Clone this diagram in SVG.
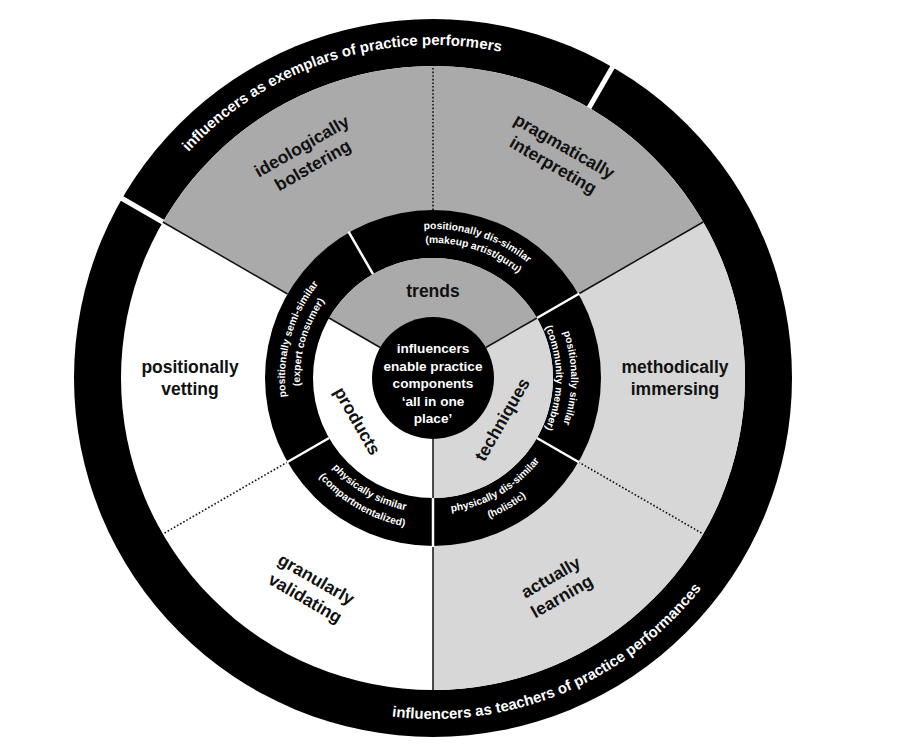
<svg xmlns="http://www.w3.org/2000/svg" xmlns:xlink="http://www.w3.org/1999/xlink" width="900" height="750" viewBox="0 0 900 750">
<style>
.lbl{font-family:"Liberation Sans",Arial,sans-serif;font-weight:bold;font-size:17.5px;fill:#111;text-anchor:middle}
.ctr{font-family:"Liberation Sans",Arial,sans-serif;font-weight:bold;font-size:13.6px;fill:#fff;text-anchor:middle}
.rt{font-family:"Liberation Sans",Arial,sans-serif;font-weight:bold;font-size:10.3px;fill:#fff;text-anchor:middle}
.ot{font-family:"Liberation Sans",Arial,sans-serif;font-weight:bold;font-size:15px;fill:#fff;text-anchor:middle}
.sol{stroke:#111;stroke-width:1.5;fill:none}
.dot{stroke:#111;stroke-width:1.6;stroke-dasharray:1.6 2;fill:none}
.wl{stroke:#fff;stroke-width:2.5;fill:none}
.gap{stroke:#fff;stroke-width:5;fill:none}
</style>
<defs>
<path id="pTop" d="M107.59,307.34 A333,333 0 0 1 656.88,131.51"/>
<path id="pBot" d="M225.40,648.55 A341,341 0 0 0 771.07,422.50"/>
<path id="s1a" d="M343.33,259.01 A149,149 0 0 1 575.49,334.43"/>
<path id="s1b" d="M351.76,270.19 A135,135 0 0 1 562.10,338.53"/>
<path id="s2a" d="M317.99,471.14 A148,148 0 0 1 384.81,238.07"/>
<path id="s2b" d="M329.65,461.70 A133,133 0 0 1 389.70,252.25"/>
<path id="s5a" d="M512.16,264.95 A138,138 0 0 1 512.16,491.05"/>
<path id="s5b" d="M503.55,277.24 A123,123 0 0 1 503.55,478.76"/>
<path id="s3a" d="M298.51,389.77 A135,135 0 0 0 490.05,500.35"/>
<path id="s3b" d="M282.57,391.17 A151,151 0 0 0 496.81,514.85"/>
<path id="s4a" d="M375.95,500.35 A135,135 0 0 0 567.49,389.77"/>
<path id="s4b" d="M369.19,514.85 A151,151 0 0 0 583.43,391.17"/>
</defs>
<rect width="900" height="750" fill="#fff"/>
<g id="outer-ring">
<circle cx="433" cy="378" r="359" fill="#000"/>
<circle cx="433" cy="378" r="312" fill="#fff"/>
<line class="gap" x1="588.5" y1="108.67" x2="614.0" y2="64.5"/>
<line class="gap" x1="163.67" y1="222.5" x2="119.5" y2="197.0"/>
<text class="ot"><textPath xlink:href="#pTop" startOffset="50%">influencers as exemplars of practice performers</textPath></text>
<text class="ot"><textPath xlink:href="#pBot" startOffset="50%">influencers as teachers of practice performances</textPath></text>
</g>
<g id="sectors">
<path d="M433,378 L703.2,222 A312,312 0 0 0 162.8,222 Z" fill="#aaaaaa"/>
<path d="M433,378 L433,690 A312,312 0 0 0 703.2,222 Z" fill="#d7d7d7"/>
</g>
<g id="middle-ring">
<circle cx="433" cy="378" r="168" fill="#000"/>
<circle cx="433" cy="378" r="120" fill="#fff"/>
<path d="M433,378 L536.92,318 A120,120 0 0 0 329.08,318 Z" fill="#aaaaaa"/>
<path d="M433,378 L433,498 A120,120 0 0 0 536.92,318 Z" fill="#d7d7d7"/>
</g>
<g id="connectors">
<line class="sol" x1="578.49" y1="294" x2="703.2" y2="222"/>
<line class="sol" x1="287.51" y1="294" x2="162.8" y2="222"/>
<line class="sol" x1="433" y1="546" x2="433" y2="690"/>
<line class="sol" x1="485.83" y1="347.5" x2="536.92" y2="318"/>
<line class="sol" x1="380.17" y1="347.5" x2="329.08" y2="318"/>
<line class="sol" x1="433" y1="439" x2="433" y2="498"/>
<line class="dot" x1="433" y1="210" x2="433" y2="66"/>
<line class="dot" x1="287.51" y1="462" x2="162.8" y2="534"/>
<line class="dot" x1="578.49" y1="462" x2="703.2" y2="534"/>
<line class="wl" x1="536.92" y1="318" x2="579.4" y2="293.5"/>
<line class="wl" x1="373" y1="274.08" x2="348.5" y2="231.6"/>
<line class="wl" x1="329.08" y1="438" x2="286.6" y2="462.5"/>
<line class="wl" x1="433" y1="498" x2="433" y2="547"/>
<line class="wl" x1="536.92" y1="438" x2="579.4" y2="462.5"/>
</g>
<g id="ring-seg-top"><text class="rt"><textPath xlink:href="#s1a" startOffset="50%">positionally dis-similar</textPath></text><text class="rt"><textPath xlink:href="#s1b" startOffset="50%">(makeup artist/guru)</textPath></text></g>
<g id="ring-seg-left"><text class="rt"><textPath xlink:href="#s2a" startOffset="50%">positionally semi-similar</textPath></text><text class="rt"><textPath xlink:href="#s2b" startOffset="50%">(expert consumer)</textPath></text></g>
<g id="ring-seg-right"><text class="rt"><textPath xlink:href="#s5a" startOffset="50%">positionally similar</textPath></text><text class="rt"><textPath xlink:href="#s5b" startOffset="50%">(community member)</textPath></text></g>
<g id="ring-seg-bl"><text class="rt"><textPath xlink:href="#s3a" startOffset="50%">physically similar</textPath></text><text class="rt"><textPath xlink:href="#s3b" startOffset="50%">(compartmentalized)</textPath></text></g>
<g id="ring-seg-br"><text class="rt"><textPath xlink:href="#s4a" startOffset="50%">physically dis-similar</textPath></text><text class="rt"><textPath xlink:href="#s4b" startOffset="50%">(holistic)</textPath></text></g>
<g id="center">
<circle cx="433" cy="378" r="61" fill="#000"/>
<text class="ctr" x="433" y="353">influencers</text>
<text class="ctr" x="433" y="370.5">enable practice</text>
<text class="ctr" x="433" y="388">components</text>
<text class="ctr" x="433" y="405.5">‘all in one</text>
<text class="ctr" x="433" y="423">place’</text>
</g>
<g id="trends"><text class="lbl" x="433" y="297">trends</text></g>
<g id="products"><text class="lbl" transform="translate(356.5,421.5) rotate(60)" y="5">products</text></g>
<g id="techniques"><text class="lbl" transform="translate(503,420) rotate(-60)" y="5">techniques</text></g>
<g id="ideologically-bolstering"><text class="lbl" transform="translate(308,157) rotate(-30)"><tspan x="0" y="-6.5">ideologically</tspan><tspan x="0" y="15.5">bolstering</tspan></text></g>
<g id="pragmatically-interpreting"><text class="lbl" transform="translate(558,157) rotate(30)"><tspan x="0" y="-6.5">pragmatically</tspan><tspan x="0" y="15.5">interpreting</tspan></text></g>
<g id="positionally-vetting"><text class="lbl" transform="translate(190,379)"><tspan x="0" y="-6.5">positionally</tspan><tspan x="0" y="15.5">vetting</tspan></text></g>
<g id="methodically-immersing"><text class="lbl" transform="translate(675,379)"><tspan x="0" y="-6.5">methodically</tspan><tspan x="0" y="15.5">immersing</tspan></text></g>
<g id="granularly-validating"><text class="lbl" transform="translate(310,590) rotate(30)"><tspan x="0" y="-6.5">granularly</tspan><tspan x="0" y="15.5">validating</tspan></text></g>
<g id="actually-learning"><text class="lbl" transform="translate(557,588) rotate(-30)"><tspan x="0" y="-6.5">actually</tspan><tspan x="0" y="15.5">learning</tspan></text></g>
</svg>
